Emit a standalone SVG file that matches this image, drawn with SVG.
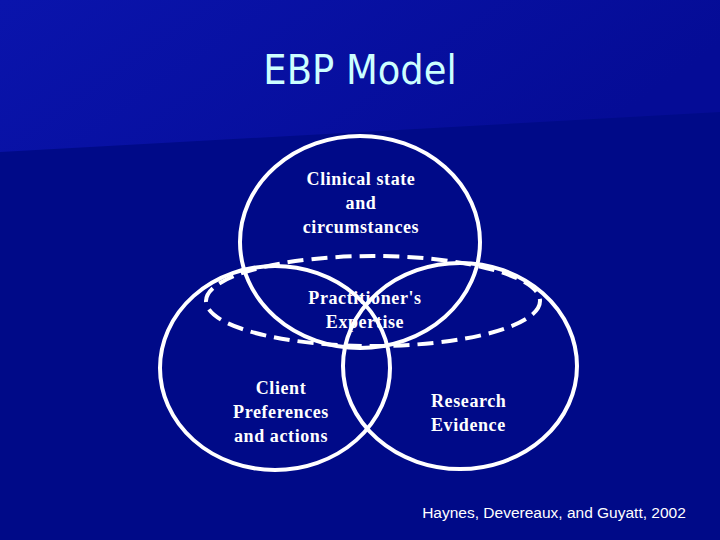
<svg xmlns="http://www.w3.org/2000/svg" width="720" height="540" viewBox="0 0 720 540">
<defs>
<linearGradient id="top" x1="0" y1="0" x2="1" y2="0.3">
<stop offset="0" stop-color="#0A14AC"/><stop offset="1" stop-color="#050C96"/>
</linearGradient>
<style>
.c{fill:none;stroke:#fff;stroke-width:4}
.t{font-family:"Liberation Serif",serif;font-weight:bold;font-size:18px;letter-spacing:0.6px;fill:#fff;text-anchor:middle}
.s{text-anchor:start}
</style>
</defs>
<rect width="720" height="540" fill="#000A88"/>
<polygon points="0,0 720,0 720,112 0,152" fill="url(#top)"/>
<text x="360" y="84" font-family="DejaVu Sans Condensed,DejaVu Sans,sans-serif" font-size="41" fill="#CCFFFF" text-anchor="middle">EBP Model</text>
<g id="clinical"><ellipse class="c" cx="360" cy="242" rx="120" ry="106"/>
<text class="t" x="361" y="185">Clinical state</text><text class="t" x="361" y="209">and</text><text class="t" x="361" y="233">circumstances</text></g>
<g id="client"><ellipse class="c" cx="275" cy="368" rx="115" ry="102"/>
<text class="t" x="281" y="394">Client</text><text class="t" x="281" y="418">Preferences</text><text class="t" x="281" y="442">and actions</text></g>
<g id="research"><ellipse class="c" cx="460" cy="366" rx="117" ry="103"/>
<text class="t s" x="431" y="407">Research</text><text class="t s" x="431" y="431">Evidence</text></g>
<g id="expertise"><ellipse class="c" cx="373" cy="301" rx="167" ry="45" stroke-dasharray="16,8"/>
<text class="t" x="365" y="304">Practitioner's</text><text class="t" x="365" y="328">Expertise</text></g>
<text x="554" y="518" font-family="Liberation Sans,sans-serif" font-size="15.5" fill="#fff" text-anchor="middle">Haynes, Devereaux, and Guyatt, 2002</text>
</svg>
